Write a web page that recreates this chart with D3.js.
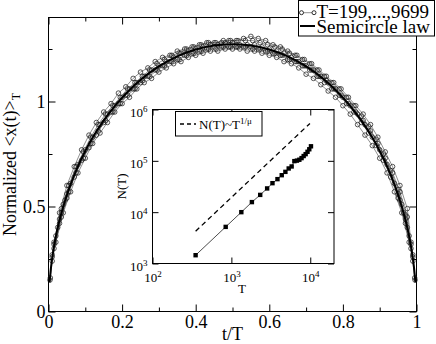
<!DOCTYPE html>
<html>
<head>
<meta charset="utf-8">
<script src="https://cdn.jsdelivr.net/npm/d3@7"></script>
<style>
  body { margin: 0; background: #fff; }
  svg { display: block; }
</style>
</head>
<body>
<svg width="436" height="344"></svg>
<script>
// --- data ---

// semicircle law curve
const semiT = [0.003, 0.006, 0.01, 0.015, 0.02, 0.03, 0.04, 0.05, 0.06, 0.08, 0.10, 0.12, 0.15, 0.18, 0.21, 0.25, 0.30, 0.35, 0.40, 0.45, 0.50,
  0.55, 0.60, 0.65, 0.70, 0.75, 0.79, 0.82, 0.85, 0.88, 0.90, 0.92, 0.94, 0.95, 0.96, 0.97, 0.98, 0.985, 0.99, 0.994, 0.997]
const semiY = [0.139, 0.197, 0.253, 0.310, 0.357, 0.434, 0.499, 0.555, 0.605, 0.691, 0.764, 0.828, 0.909, 0.978, 1.037, 1.103, 1.167, 1.215, 1.248, 1.267, 1.273,
  1.267, 1.248, 1.215, 1.167, 1.103, 1.037, 0.978, 0.909, 0.828, 0.764, 0.691, 0.605, 0.555, 0.499, 0.434, 0.357, 0.310, 0.253, 0.197, 0.139]

// open-circle series (T=199,...,9699)
const tOdd = [0.01, 0.03, 0.05, 0.07, 0.09, 0.11, 0.13, 0.15, 0.17, 0.19, 0.21, 0.23, 0.25, 0.27, 0.29, 0.31, 0.33, 0.35, 0.37, 0.39,
  0.41, 0.43, 0.45, 0.47, 0.49, 0.51, 0.53, 0.55, 0.57, 0.59, 0.61, 0.63, 0.65, 0.67, 0.69, 0.71, 0.73, 0.75, 0.77, 0.79,
  0.81, 0.83, 0.85, 0.87, 0.89, 0.91, 0.93, 0.95, 0.97, 0.99]
const tEven = [0.02, 0.04, 0.06, 0.08, 0.10, 0.12, 0.14, 0.16, 0.18, 0.20, 0.22, 0.24, 0.26, 0.28, 0.30, 0.32, 0.34, 0.36, 0.38, 0.40,
  0.42, 0.44, 0.46, 0.48, 0.50, 0.52, 0.54, 0.56, 0.58, 0.60, 0.62, 0.64, 0.66, 0.68, 0.70, 0.72, 0.74, 0.76, 0.78, 0.80,
  0.82, 0.84, 0.86, 0.88, 0.90, 0.92, 0.94, 0.96, 0.98]
const tFine = [0.005, 0.01, 0.015, 0.02, 0.025, 0.03, 0.035, 0.04, 0.045, 0.05,
  0.06, 0.08, 0.10, 0.12, 0.14, 0.16, 0.18, 0.20, 0.22, 0.24, 0.26, 0.28, 0.30, 0.32, 0.34, 0.36, 0.38, 0.40,
  0.42, 0.44, 0.46, 0.48, 0.50, 0.52, 0.54, 0.56, 0.58, 0.60, 0.62, 0.64, 0.66, 0.68, 0.70, 0.72, 0.74, 0.76, 0.78, 0.80,
  0.82, 0.84, 0.86, 0.88, 0.90, 0.92, 0.94,
  0.95, 0.955, 0.96, 0.965, 0.97, 0.975, 0.98, 0.985, 0.99, 0.995]
const tOddEnds = [0.004, 0.01, 0.03, 0.05, 0.07, 0.09, 0.11, 0.13, 0.15, 0.17, 0.19, 0.21, 0.23, 0.25, 0.27, 0.29, 0.31, 0.33, 0.35, 0.37, 0.39,
  0.41, 0.43, 0.45, 0.47, 0.49, 0.51, 0.53, 0.55, 0.57, 0.59, 0.61, 0.63, 0.65, 0.67, 0.69, 0.71, 0.73, 0.75, 0.77, 0.79,
  0.81, 0.83, 0.85, 0.87, 0.89, 0.91, 0.93, 0.95, 0.97, 0.99, 0.996]
const tHalf = [0.015, 0.035, 0.055, 0.075, 0.095, 0.115, 0.135, 0.155, 0.175, 0.195, 0.215, 0.235, 0.255, 0.275, 0.295, 0.315, 0.335, 0.355, 0.375, 0.395,
  0.415, 0.435, 0.455, 0.475, 0.495, 0.515, 0.535, 0.555, 0.575, 0.595, 0.615, 0.635, 0.655, 0.675, 0.695, 0.715, 0.735, 0.755, 0.775, 0.795,
  0.815, 0.835, 0.855, 0.875, 0.895, 0.915, 0.935, 0.955, 0.975, 0.985]

const yA = [0.27, 0.47, 0.60, 0.69, 0.77, 0.84, 0.90, 0.95, 0.99, 1.04, 1.07, 1.11, 1.14, 1.16, 1.19, 1.21, 1.22, 1.24, 1.25, 1.26,
  1.27, 1.28, 1.28, 1.28, 1.29, 1.29, 1.30, 1.31, 1.30, 1.29, 1.27, 1.26, 1.24, 1.22, 1.20, 1.18, 1.15, 1.12, 1.09, 1.06,
  1.02, 0.98, 0.93, 0.88, 0.82, 0.75, 0.67, 0.58, 0.46, 0.27]
const yB = [0.33, 0.47, 0.57, 0.66, 0.73, 0.80, 0.85, 0.90, 0.95, 0.99, 1.02, 1.06, 1.09, 1.11, 1.14, 1.16, 1.18, 1.19, 1.21, 1.22,
  1.23, 1.24, 1.24, 1.25, 1.25, 1.25, 1.24, 1.24, 1.23, 1.22, 1.21, 1.19, 1.18, 1.16, 1.13, 1.11, 1.08, 1.05, 1.02, 0.98,
  0.94, 0.89, 0.84, 0.79, 0.73, 0.66, 0.57, 0.47, 0.33]
const yC = [0.16, 0.26, 0.32, 0.36, 0.40, 0.44, 0.47, 0.51, 0.53, 0.56,
  0.61, 0.70, 0.77, 0.83, 0.89, 0.94, 0.98, 1.02, 1.06, 1.09, 1.12, 1.15, 1.17, 1.19, 1.21, 1.23, 1.24, 1.25,
  1.26, 1.27, 1.27, 1.28, 1.28, 1.27, 1.27, 1.27, 1.26, 1.25, 1.24, 1.23, 1.21, 1.19, 1.17, 1.15, 1.12, 1.09, 1.06, 1.02,
  0.98, 0.94, 0.89, 0.83, 0.77, 0.70, 0.61,
  0.56, 0.53, 0.51, 0.47, 0.44, 0.40, 0.36, 0.32, 0.26, 0.16]
const yD = [0.15, 0.24, 0.42, 0.54, 0.64, 0.72, 0.78, 0.84, 0.90, 0.95, 0.99, 1.03, 1.06, 1.09, 1.12, 1.15, 1.17, 1.19, 1.20, 1.22, 1.23,
  1.24, 1.25, 1.26, 1.26, 1.26, 1.26, 1.26, 1.26, 1.25, 1.24, 1.23, 1.22, 1.20, 1.19, 1.17, 1.15, 1.12, 1.09, 1.06, 1.03,
  0.99, 0.95, 0.90, 0.85, 0.79, 0.72, 0.64, 0.54, 0.42, 0.24, 0.15]
const yE = [0.33, 0.49, 0.60, 0.69, 0.76, 0.83, 0.89, 0.94, 0.98, 1.02, 1.06, 1.09, 1.12, 1.15, 1.18, 1.20, 1.22, 1.23, 1.25, 1.26,
  1.27, 1.28, 1.28, 1.29, 1.29, 1.29, 1.29, 1.29, 1.28, 1.27, 1.26, 1.25, 1.23, 1.22, 1.20, 1.18, 1.15, 1.12, 1.09, 1.06,
  1.02, 0.98, 0.94, 0.89, 0.83, 0.76, 0.69, 0.60, 0.49, 0.33]
const yF = [0.30, 0.45, 0.57, 0.66, 0.73, 0.80, 0.86, 0.91, 0.95, 0.99, 1.03, 1.06, 1.10, 1.12, 1.15, 1.17, 1.19, 1.20, 1.22, 1.23,
  1.24, 1.25, 1.25, 1.26, 1.26, 1.26, 1.26, 1.25, 1.25, 1.24, 1.23, 1.22, 1.20, 1.19, 1.17, 1.15, 1.12, 1.10, 1.06, 1.03,
  0.99, 0.95, 0.91, 0.86, 0.80, 0.73, 0.66, 0.57, 0.45, 0.30]

// inset: N(T) vs T
const insetT = [352, 847, 1337, 1820, 2320, 2840, 3320, 3840, 4350, 4840, 5330, 5810, 6290, 6780, 7270, 7760, 8250, 8740, 9230, 9720, 10210]
const insetN = [1450, 5170, 10000, 15700, 21700, 29000, 36700, 44000, 52500, 61000, 71000, 77700, 98700, 101000, 105000, 113000, 124000, 135000, 150000, 168000, 192000]
const fitT = [352, 9910]
const fitN = [4260, 536000]

const xTicks = [0, 0.2, 0.4, 0.6, 0.8, 1]
const xMinor = [0.1, 0.3, 0.5, 0.7, 0.9]
const yTicks = [0, 0.5, 1]
const yMinor = [0.25, 0.75, 1.25]
const insetXTicks = [1e2, 1e3, 1e4]
const insetYTicks = [1e3, 1e4, 1e5, 1e6]

const serif = '"Liberation Serif", "Times New Roman", serif'
const svg = d3.select('svg')

// main scales
const x = d3.scaleLinear().domain([0, 1]).range([48.5, 416.5])
const y = d3.scaleLinear().domain([0, 1.4]).range([311.5, 17.5])

const fmt = d3.format('~g')

// axes with inward ticks on all four sides
function mainAxis(axis, ty, major, minor, showLabels, pad) {
  const g = svg.append('g').attr('transform', ty)
  g.call(axis.tickValues(major).tickSize(-7).tickPadding(pad).tickFormat(showLabels ? fmt : ''))
  g.select('.domain').remove()
  g.attr('font-size', 18)
  const g2 = svg.append('g').attr('transform', ty)
  g2.call(axis.tickValues(minor).tickSize(-4).tickFormat(''))
  g2.select('.domain').remove()
  return g
}
mainAxis(d3.axisBottom(x), 'translate(0,311.5)', xTicks, xMinor, true, 4)
mainAxis(d3.axisTop(x), 'translate(0,17.5)', xTicks, xMinor, false, 4)
mainAxis(d3.axisLeft(y), 'translate(48.5,0)', yTicks, yMinor, true, 3)
mainAxis(d3.axisRight(y), 'translate(416.5,0)', yTicks, yMinor, false, 3)

svg.append('rect')
  .attr('x', x(0)).attr('y', y(1.4))
  .attr('width', x(1) - x(0)).attr('height', y(0) - y(1.4))
  .attr('fill', 'none').attr('stroke', '#000')

// circle series
const series = [
  tOdd.map((t, i) => [t, yA[i]]),
  tEven.map((t, i) => [t, yB[i]]),
  tFine.map((t, i) => [t, yC[i]]),
  tOddEnds.map((t, i) => [t, yD[i]]),
  tHalf.map((t, i) => [t, yE[i]]),
  tHalf.map((t, i) => [t, yF[i]])
]
const plain = d3.line().x(d => x(d[0])).y(d => y(d[1]))
series.forEach(s => {
  svg.append('path').attr('d', plain(s)).attr('fill', 'none').attr('stroke', '#444').attr('stroke-width', 0.6)
  svg.append('g').selectAll('circle').data(s).enter().append('circle')
    .attr('cx', d => x(d[0])).attr('cy', d => y(d[1])).attr('r', 2.3)
    .attr('fill', 'none').attr('stroke', '#111').attr('stroke-width', 0.7)
})

// semicircle law line
const smooth = d3.line().x(d => x(d[0])).y(d => y(d[1])).curve(d3.curveMonotoneX)
svg.append('path')
  .attr('d', smooth(semiT.map((t, i) => [t, semiY[i]])))
  .attr('fill', 'none').attr('stroke', '#000').attr('stroke-width', 2)

// axis titles
svg.append('text').attr('x', (x(0) + x(1)) / 2).attr('y', 340).attr('text-anchor', 'middle')
  .attr('font-size', 18).text('t/T')
const yt = svg.append('text').attr('transform', `translate(16,${(y(0) + y(1.4)) / 2}) rotate(-90)`)
  .attr('text-anchor', 'middle').attr('font-size', 18)
yt.append('tspan').text('Normalized <x(t)>')
yt.append('tspan').attr('dy', '0.35em').attr('font-size', 12).text('T')

// main legend
const lg = svg.append('g')
lg.append('rect').attr('x', 298.5).attr('y', 0.5).attr('width', 136).attr('height', 35.5)
  .attr('fill', '#fff').attr('stroke', '#000')
lg.append('line').attr('x1', 301.5).attr('x2', 314).attr('y1', 12.7).attr('y2', 12.7)
  .attr('stroke', '#444').attr('stroke-width', 0.6)
lg.selectAll('circle').data([301.5, 314]).enter().append('circle')
  .attr('cx', d => d).attr('cy', 12.7).attr('r', 2)
  .attr('fill', '#fff').attr('stroke', '#000').attr('stroke-width', 0.8)
lg.append('text').attr('x', 316.5).attr('y', 17.5).attr('font-size', 19).text('T=199,...,9699')
lg.append('line').attr('x1', 300).attr('x2', 315).attr('y1', 26).attr('y2', 26)
  .attr('stroke', '#000').attr('stroke-width', 2)
lg.append('text').attr('x', 316.5).attr('y', 33.3).attr('font-size', 19).text('Semicircle law')

// --- inset ---
const ix = d3.scaleLog().domain([100, 20000]).range([152.5, 334])
const iy = d3.scaleLog().domain([1e3, 1e6]).range([263.5, 109.5])

svg.append('rect')
  .attr('x', ix(100)).attr('y', iy(1e6))
  .attr('width', ix(20000) - ix(100)).attr('height', iy(1e3) - iy(1e6))
  .attr('fill', '#fff').attr('stroke', '#000')

function powLabels(g) {
  g.selectAll('.tick text').each(function (d) {
    const t = d3.select(this)
    t.text('10')
    t.append('tspan').attr('dy', '-0.55em').attr('font-size', 9).text(Math.round(Math.log10(d)))
  })
}
function insetAxis(axis, ty, vals, labels, pad) {
  const g = svg.append('g').attr('transform', ty)
  g.call(axis.tickValues(vals).tickSize(-6).tickPadding(pad).tickFormat(labels ? d => d : ''))
  g.select('.domain').remove()
  g.attr('font-size', 13)
  if (labels) powLabels(g)
  return g
}
insetAxis(d3.axisBottom(ix), `translate(0,${iy(1e3)})`, insetXTicks, true, 9)
insetAxis(d3.axisTop(ix), `translate(0,${iy(1e6)})`, insetXTicks, false, 3)
const gl = insetAxis(d3.axisLeft(iy), `translate(${ix(100)},0)`, insetYTicks, true, 5)
gl.selectAll('.tick text').attr('dy', '0.5em')
insetAxis(d3.axisRight(iy), `translate(${ix(20000)},0)`, insetYTicks, false, 3)

svg.append('text').attr('x', 242).attr('y', 293).attr('text-anchor', 'middle').attr('font-size', 13).text('T')
svg.append('text').attr('transform', `translate(126,${(iy(1e3) + iy(1e6)) / 2}) rotate(-90)`)
  .attr('text-anchor', 'middle').attr('font-size', 13).text('N(T)')

// power-law guide
const logLine = d3.line().x(d => ix(d[0])).y(d => iy(d[1]))
svg.append('path').attr('d', logLine(fitT.map((t, i) => [t, fitN[i]])))
  .attr('fill', 'none').attr('stroke', '#000').attr('stroke-width', 1.3).attr('stroke-dasharray', '5,3.5')

// measured N(T)
const pts = insetT.map((t, i) => [t, insetN[i]])
svg.append('path').attr('d', logLine(pts)).attr('fill', 'none').attr('stroke', '#000').attr('stroke-width', 0.7)
svg.append('g').selectAll('rect').data(pts).enter().append('rect')
  .attr('x', d => ix(d[0]) - 2.2).attr('y', d => iy(d[1]) - 2.2)
  .attr('width', 4.4).attr('height', 4.4).attr('fill', '#000')

// inset legend
svg.append('rect').attr('x', 175.5).attr('y', 111.5).attr('width', 86.5).attr('height', 24.5)
  .attr('fill', '#fff').attr('stroke', '#000')
svg.append('line').attr('x1', 180).attr('x2', 196).attr('y1', 124).attr('y2', 124)
  .attr('stroke', '#000').attr('stroke-width', 1.3).attr('stroke-dasharray', '4,3')
const lt = svg.append('text').attr('x', 199).attr('y', 128.5).attr('font-size', 13)
lt.append('tspan').text('N(T)~T')
lt.append('tspan').attr('dy', '-0.55em').attr('font-size', 9).text('1/μ')

// Times-like face everywhere (inline style beats the axis' own font attribute)
svg.selectAll('text').style('font-family', serif)
</script>
</body>
</html>
